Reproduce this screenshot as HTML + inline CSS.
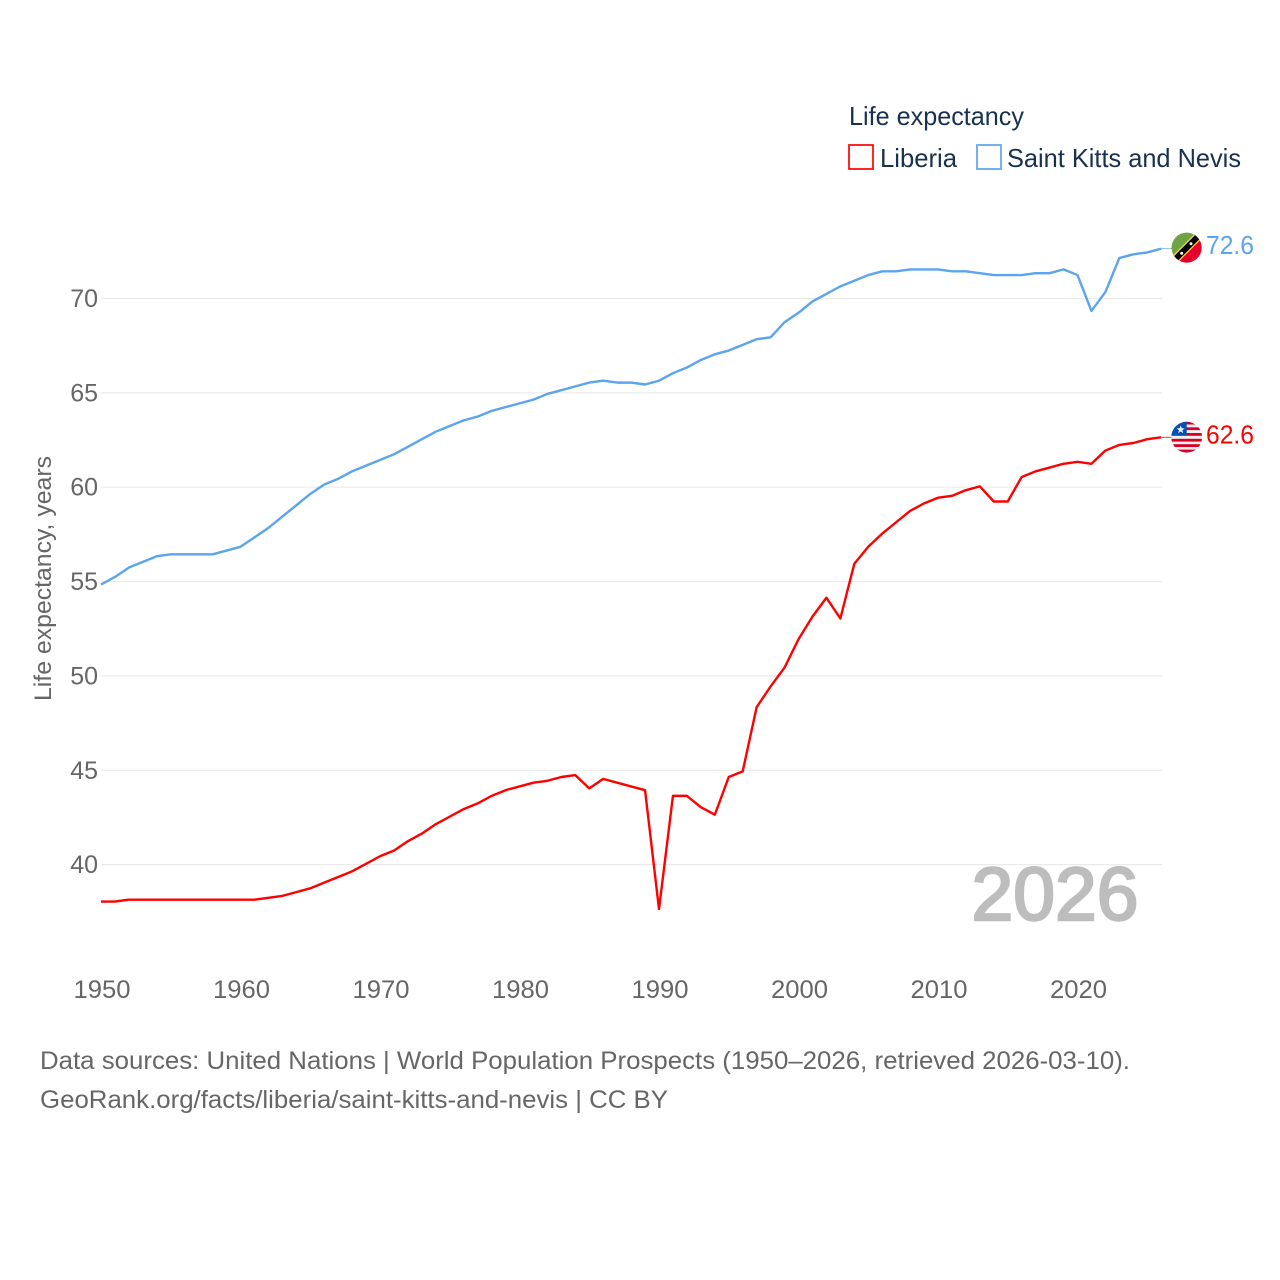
<!DOCTYPE html>
<html lang="en">
<head>
<meta charset="utf-8">
<title>Life expectancy: Liberia and Saint Kitts and Nevis</title>
<style>
html,body{margin:0;padding:0;background:#fff;}
svg{display:block;font-family:"Liberation Sans",sans-serif;}
</style>
</head>
<body>
<svg id="chart" xmlns="http://www.w3.org/2000/svg" width="1280" height="1280" viewBox="0 0 1280 1280">
  <rect x="0" y="0" width="1280" height="1280" fill="#ffffff"/>
  <g id="grid"></g>
  <g id="y-ticks"></g>
  <g id="x-ticks"></g>
  <text transform="translate(51,701) rotate(-90)" font-size="24" fill="#666666" textLength="245" lengthAdjust="spacingAndGlyphs">Life expectancy, years</text>
  <text x="971.5" y="920" font-size="75" fill="#bdbdbd" stroke="#bdbdbd" stroke-width="2.4" textLength="167" lengthAdjust="spacingAndGlyphs">2026</text>
  <g id="series" transform="translate(0,-0.8)"></g>

  <g>
    <text x="849" y="125" font-size="26" fill="#18314f" textLength="175" lengthAdjust="spacingAndGlyphs">Life expectancy</text>
    <rect x="849" y="145" width="24" height="24" fill="none" stroke="#ff0000" stroke-width="1.7"/>
    <text x="880" y="167" font-size="26" fill="#18314f" textLength="77" lengthAdjust="spacingAndGlyphs">Liberia</text>
    <rect x="977" y="145" width="24" height="24" fill="none" stroke="#5ba4ee" stroke-width="1.7"/>
    <text x="1007" y="167" font-size="26" fill="#18314f" textLength="234" lengthAdjust="spacingAndGlyphs">Saint Kitts and Nevis</text>
  </g>

  <defs>
    <clipPath id="clip-kn"><circle cx="1186.7" cy="247.7" r="15"/></clipPath>
    <clipPath id="clip-lr"><circle cx="1186.7" cy="437.2" r="15.4"/></clipPath>
  </defs>

  <g clip-path="url(#clip-kn)">
    <rect x="1170" y="231" width="34" height="34" fill="#e4002b"/>
    <polygon points="1170,231 1204,231 1170,265" fill="#6da544"/>
    <polygon points="1170,258.4 1204,224.4 1204,236.4 1170,270.4" fill="#ffda44"/>
    <polygon points="1170,260.2 1204,226.2 1204,234.6 1170,268.6" fill="#000000"/>
    <circle cx="1181.7" cy="253.3" r="1.5" fill="#ffffff"/>
    <circle cx="1191" cy="243.8" r="1.5" fill="#ffffff"/>
  </g>
  <g clip-path="url(#clip-lr)">
    <rect x="1170" y="420" width="34" height="34" fill="#f0f0f0"/>
    <rect x="1170" y="421.7" width="34" height="2.8" fill="#d80027"/>
    <rect x="1170" y="427.3" width="34" height="2.8" fill="#d80027"/>
    <rect x="1170" y="433" width="34" height="2.8" fill="#d80027"/>
    <rect x="1170" y="438.8" width="34" height="2.8" fill="#d80027"/>
    <rect x="1170" y="444.2" width="34" height="2.8" fill="#d80027"/>
    <rect x="1170" y="449.6" width="34" height="3.4" fill="#d80027"/>
    <rect x="1170" y="420" width="16.7" height="15.6" fill="#0052b4"/>
    <polygon points="1180.7,425.4 1181.76,428.24 1184.79,428.37 1182.41,430.26 1183.23,433.18 1180.7,431.5 1178.17,433.18 1178.99,430.26 1176.61,428.37 1179.64,428.24" fill="#f0f0f0"/>
  </g>

  <text x="1206" y="254" font-size="26" fill="#5ba4ee" textLength="48" lengthAdjust="spacingAndGlyphs">72.6</text>
  <text x="1206" y="443.5" font-size="26" fill="#ff0000" textLength="48" lengthAdjust="spacingAndGlyphs">62.6</text>

  <text x="40" y="1069" font-size="25" fill="#666666" textLength="1090" lengthAdjust="spacingAndGlyphs">Data sources: United Nations | World Population Prospects (1950–2026, retrieved 2026-03-10).</text>
  <text x="40" y="1108" font-size="25" fill="#666666" textLength="628" lengthAdjust="spacingAndGlyphs">GeoRank.org/facts/liberia/saint-kitts-and-nevis | CC BY</text>
</svg>

<script>
var years = [];
for (var yr = 1950; yr <= 2026; yr++) { years.push(yr); }
var liberia = [38.0,38.0,38.1,38.1,38.1,38.1,38.1,38.1,38.1,38.1,38.1,38.1,38.2,38.3,38.5,38.7,39.0,39.3,39.6,40.0,40.4,40.7,41.2,41.6,42.1,42.5,42.9,43.2,43.6,43.9,44.1,44.3,44.4,44.6,44.7,44.0,44.5,44.3,44.1,43.9,37.6,43.6,43.6,43.0,42.6,44.6,44.9,48.3,49.4,50.4,51.9,53.1,54.1,53.0,55.9,56.8,57.5,58.1,58.7,59.1,59.4,59.5,59.8,60.0,59.2,59.2,60.5,60.8,61.0,61.2,61.3,61.2,61.9,62.2,62.3,62.5,62.6];
var saintKitts = [54.8,55.2,55.7,56.0,56.3,56.4,56.4,56.4,56.4,56.6,56.8,57.3,57.8,58.4,59.0,59.6,60.1,60.4,60.8,61.1,61.4,61.7,62.1,62.5,62.9,63.2,63.5,63.7,64.0,64.2,64.4,64.6,64.9,65.1,65.3,65.5,65.6,65.5,65.5,65.4,65.6,66.0,66.3,66.7,67.0,67.2,67.5,67.8,67.9,68.7,69.2,69.8,70.2,70.6,70.9,71.2,71.4,71.4,71.5,71.5,71.5,71.4,71.4,71.3,71.2,71.2,71.2,71.3,71.3,71.5,71.2,69.3,70.3,72.1,72.3,72.4,72.6];
var yTickValues = [40,45,50,55,60,65,70];
var xTickValues = [1950,1960,1970,1980,1990,2000,2010,2020];

var NS = 'http://www.w3.org/2000/svg';
function xScale(year) { return 101 + (year - 1950) * 13.95; }
function yScale(value) { return 864.6 - (value - 40) * 18.87; }
function make(tag, attrs, parent) {
  var el = document.createElementNS(NS, tag);
  for (var k in attrs) { el.setAttribute(k, attrs[k]); }
  parent.appendChild(el);
  return el;
}

var gridGroup = document.getElementById('grid');
var yTickGroup = document.getElementById('y-ticks');
yTickValues.forEach(function (v) {
  var line = make('line', {x1: 101, x2: 1162, y1: yScale(v), y2: yScale(v), stroke: '#ebebeb', 'stroke-width': 1.2}, gridGroup);
  
  
  var t = make('text', {x: 98, y: yScale(v) + 8.5, 'text-anchor': 'end', 'font-size': 25, fill: '#666666'}, yTickGroup);
  
  
  t.textContent = v;
});

var xTickGroup = document.getElementById('x-ticks');
xTickValues.forEach(function (v) {
  var t = make('text', {x: xScale(v) + 1, y: 998, 'text-anchor': 'middle', 'font-size': 25, fill: '#666666', textLength: 57, lengthAdjust: 'spacingAndGlyphs'}, xTickGroup);
  
  
  t.textContent = v;
});

var seriesGroup = document.getElementById('series');
function drawSeries(values, color, name) {
  var pts = values.map(function (v, i) { return xScale(years[i]).toFixed(2) + ',' + yScale(v).toFixed(2); }).join(' ');
  var poly = make('polyline', {points: pts, fill: 'none', stroke: color, 'stroke-width': 2.4, 'stroke-linejoin': 'round'}, seriesGroup);
  
  
  var lastY = yScale(values[values.length - 1]);
  var lead = make('line', {x1: xScale(years[years.length - 1]), x2: 1172, y1: lastY, y2: lastY, stroke: color, 'stroke-width': 1, opacity: 0.75}, seriesGroup);
  
  
}
drawSeries(saintKitts, '#5ba4ee', 'line-saint-kitts-and-nevis');
drawSeries(liberia, '#ff0000', 'line-liberia');
</script>
</body>
</html>
